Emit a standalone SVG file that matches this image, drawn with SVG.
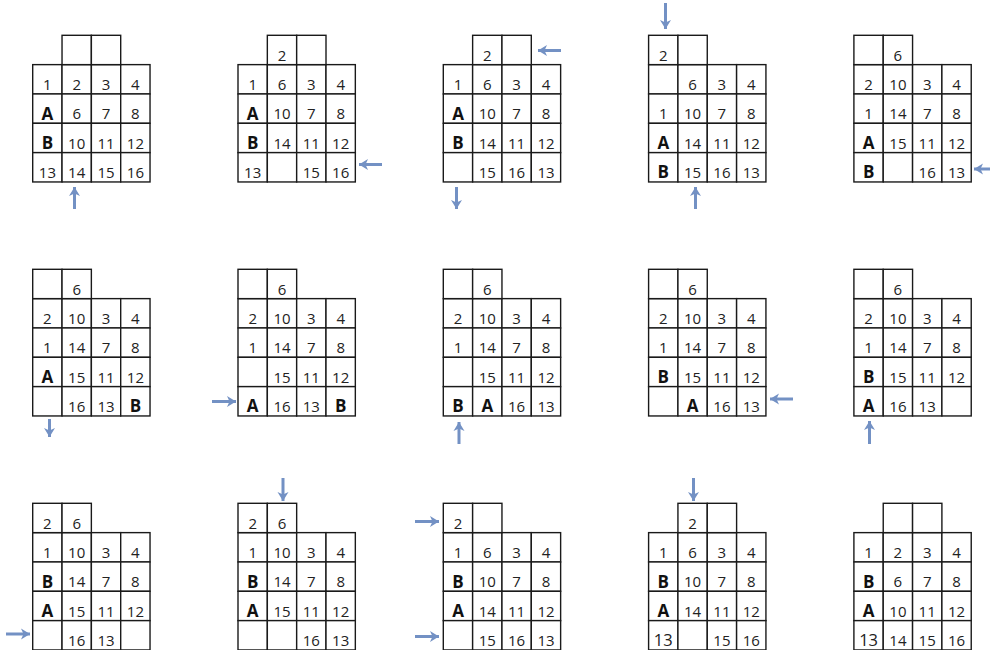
<svg xmlns="http://www.w3.org/2000/svg" width="990" height="650" viewBox="0 0 990 650">
<style>
.c{fill:#fff;stroke:#1a1a1a;stroke-width:1.4}
.n{font-family:"Open Sans","Liberation Sans",sans-serif;font-size:15px;fill:#222;text-anchor:middle}
.b{font-family:"Open Sans","Liberation Sans",sans-serif;font-size:17px;font-weight:bold;fill:#111;text-anchor:middle}
.l{font-size:16.5px}
.a{stroke:#7391c4;stroke-width:3;fill:none;marker-end:url(#ah)}
</style>
<defs>
<marker id="ah" markerUnits="userSpaceOnUse" markerWidth="14" markerHeight="14" refX="10" refY="7" orient="auto">
<path d="M1,1.5 L10,7 L1,12.5 L3.5,7 Z" fill="#7391c4"/>
</marker>
<g id="grid">
<rect class="c" x="0" y="29.33" width="29.33" height="29.33"/><rect class="c" x="29.33" y="29.33" width="29.33" height="29.33"/><rect class="c" x="58.67" y="29.33" width="29.33" height="29.33"/><rect class="c" x="88" y="29.33" width="29.33" height="29.33"/>
<rect class="c" x="0" y="58.67" width="29.33" height="29.33"/><rect class="c" x="29.33" y="58.67" width="29.33" height="29.33"/><rect class="c" x="58.67" y="58.67" width="29.33" height="29.33"/><rect class="c" x="88" y="58.67" width="29.33" height="29.33"/>
<rect class="c" x="0" y="88" width="29.33" height="29.33"/><rect class="c" x="29.33" y="88" width="29.33" height="29.33"/><rect class="c" x="58.67" y="88" width="29.33" height="29.33"/><rect class="c" x="88" y="88" width="29.33" height="29.33"/>
<rect class="c" x="0" y="117.33" width="29.33" height="29.33"/><rect class="c" x="29.33" y="117.33" width="29.33" height="29.33"/><rect class="c" x="58.67" y="117.33" width="29.33" height="29.33"/><rect class="c" x="88" y="117.33" width="29.33" height="29.33"/>
</g>
<g id="topR"><rect class="c" x="29.33" y="0" width="29.33" height="29.33"/><rect class="c" x="58.67" y="0" width="29.33" height="29.33"/></g>
<g id="topL"><rect class="c" x="0" y="0" width="29.33" height="29.33"/><rect class="c" x="29.33" y="0" width="29.33" height="29.33"/></g>
</defs>

<g id="p1" transform="translate(32.7,35.3)">
<use href="#grid"/><use href="#topR"/>
<text class="n" x="14.7" y="54.7">1</text><text class="n" x="44" y="54.7">2</text><text class="n" x="73.3" y="54.7">3</text><text class="n" x="102.7" y="54.7">4</text>
<text class="b" x="14.7" y="84.5">A</text><text class="n" x="44" y="84">6</text><text class="n" x="73.3" y="84">7</text><text class="n" x="102.7" y="84">8</text>
<text class="b" x="14.7" y="113.8">B</text><text class="n" x="44" y="113.3">10</text><text class="n" x="73.3" y="113.3">11</text><text class="n" x="102.7" y="113.3">12</text>
<text class="n" x="14.7" y="142.7">13</text><text class="n" x="44" y="142.7">14</text><text class="n" x="73.3" y="142.7">15</text><text class="n" x="102.7" y="142.7">16</text>
</g>

<g id="p2" transform="translate(238,35.3)">
<use href="#grid"/><use href="#topR"/>
<text class="n" x="44" y="25.3">2</text>
<text class="n" x="14.7" y="54.7">1</text><text class="n" x="44" y="54.7">6</text><text class="n" x="73.3" y="54.7">3</text><text class="n" x="102.7" y="54.7">4</text>
<text class="b" x="14.7" y="84.5">A</text><text class="n" x="44" y="84">10</text><text class="n" x="73.3" y="84">7</text><text class="n" x="102.7" y="84">8</text>
<text class="b" x="14.7" y="113.8">B</text><text class="n" x="44" y="113.3">14</text><text class="n" x="73.3" y="113.3">11</text><text class="n" x="102.7" y="113.3">12</text>
<text class="n" x="14.7" y="142.7">13</text><text class="n" x="73.3" y="142.7">15</text><text class="n" x="102.7" y="142.7">16</text>
</g>

<g id="p3" transform="translate(443.3,35.3)">
<use href="#grid"/><use href="#topR"/>
<text class="n" x="44" y="25.3">2</text>
<text class="n" x="14.7" y="54.7">1</text><text class="n" x="44" y="54.7">6</text><text class="n" x="73.3" y="54.7">3</text><text class="n" x="102.7" y="54.7">4</text>
<text class="b" x="14.7" y="84.5">A</text><text class="n" x="44" y="84">10</text><text class="n" x="73.3" y="84">7</text><text class="n" x="102.7" y="84">8</text>
<text class="b" x="14.7" y="113.8">B</text><text class="n" x="44" y="113.3">14</text><text class="n" x="73.3" y="113.3">11</text><text class="n" x="102.7" y="113.3">12</text>
<text class="n" x="44" y="142.7">15</text><text class="n" x="73.3" y="142.7">16</text><text class="n" x="102.7" y="142.7">13</text>
</g>

<g id="p4" transform="translate(648.6,35.3)">
<use href="#grid"/><use href="#topL"/>
<text class="n" x="14.7" y="25.3">2</text>
<text class="n" x="44" y="54.7">6</text><text class="n" x="73.3" y="54.7">3</text><text class="n" x="102.7" y="54.7">4</text>
<text class="n" x="14.7" y="84">1</text><text class="n" x="44" y="84">10</text><text class="n" x="73.3" y="84">7</text><text class="n" x="102.7" y="84">8</text>
<text class="b" x="14.7" y="113.8">A</text><text class="n" x="44" y="113.3">14</text><text class="n" x="73.3" y="113.3">11</text><text class="n" x="102.7" y="113.3">12</text>
<text class="b" x="14.7" y="143.2">B</text><text class="n" x="44" y="142.7">15</text><text class="n" x="73.3" y="142.7">16</text><text class="n" x="102.7" y="142.7">13</text>
</g>

<g id="p5" transform="translate(853.9,35.3)">
<use href="#grid"/><use href="#topL"/>
<text class="n" x="44" y="25.3">6</text>
<text class="n" x="14.7" y="54.7">2</text><text class="n" x="44" y="54.7">10</text><text class="n" x="73.3" y="54.7">3</text><text class="n" x="102.7" y="54.7">4</text>
<text class="n" x="14.7" y="84">1</text><text class="n" x="44" y="84">14</text><text class="n" x="73.3" y="84">7</text><text class="n" x="102.7" y="84">8</text>
<text class="b" x="14.7" y="113.8">A</text><text class="n" x="44" y="113.3">15</text><text class="n" x="73.3" y="113.3">11</text><text class="n" x="102.7" y="113.3">12</text>
<text class="b" x="14.7" y="143.2">B</text><text class="n" x="73.3" y="142.7">16</text><text class="n" x="102.7" y="142.7">13</text>
</g>

<g id="p6" transform="translate(32.7,269.3)">
<use href="#grid"/><use href="#topL"/>
<text class="n" x="44" y="25.3">6</text>
<text class="n" x="14.7" y="54.7">2</text><text class="n" x="44" y="54.7">10</text><text class="n" x="73.3" y="54.7">3</text><text class="n" x="102.7" y="54.7">4</text>
<text class="n" x="14.7" y="84">1</text><text class="n" x="44" y="84">14</text><text class="n" x="73.3" y="84">7</text><text class="n" x="102.7" y="84">8</text>
<text class="b" x="14.7" y="113.8">A</text><text class="n" x="44" y="113.3">15</text><text class="n" x="73.3" y="113.3">11</text><text class="n" x="102.7" y="113.3">12</text>
<text class="n" x="44" y="142.7">16</text><text class="n" x="73.3" y="142.7">13</text><text class="b" x="102.7" y="143.2">B</text>
</g>

<g id="p7" transform="translate(238,269.3)">
<use href="#grid"/><use href="#topL"/>
<text class="n" x="44" y="25.3">6</text>
<text class="n" x="14.7" y="54.7">2</text><text class="n" x="44" y="54.7">10</text><text class="n" x="73.3" y="54.7">3</text><text class="n" x="102.7" y="54.7">4</text>
<text class="n" x="14.7" y="84">1</text><text class="n" x="44" y="84">14</text><text class="n" x="73.3" y="84">7</text><text class="n" x="102.7" y="84">8</text>
<text class="n" x="44" y="113.3">15</text><text class="n" x="73.3" y="113.3">11</text><text class="n" x="102.7" y="113.3">12</text>
<text class="b" x="14.7" y="143.2">A</text><text class="n" x="44" y="142.7">16</text><text class="n" x="73.3" y="142.7">13</text><text class="b" x="102.7" y="143.2">B</text>
</g>

<g id="p8" transform="translate(443.3,269.3)">
<use href="#grid"/><use href="#topL"/>
<text class="n" x="44" y="25.3">6</text>
<text class="n" x="14.7" y="54.7">2</text><text class="n" x="44" y="54.7">10</text><text class="n" x="73.3" y="54.7">3</text><text class="n" x="102.7" y="54.7">4</text>
<text class="n" x="14.7" y="84">1</text><text class="n" x="44" y="84">14</text><text class="n" x="73.3" y="84">7</text><text class="n" x="102.7" y="84">8</text>
<text class="n" x="44" y="113.3">15</text><text class="n" x="73.3" y="113.3">11</text><text class="n" x="102.7" y="113.3">12</text>
<text class="b" x="14.7" y="143.2">B</text><text class="b" x="44" y="143.2">A</text><text class="n" x="73.3" y="142.7">16</text><text class="n" x="102.7" y="142.7">13</text>
</g>

<g id="p9" transform="translate(648.6,269.3)">
<use href="#grid"/><use href="#topL"/>
<text class="n" x="44" y="25.3">6</text>
<text class="n" x="14.7" y="54.7">2</text><text class="n" x="44" y="54.7">10</text><text class="n" x="73.3" y="54.7">3</text><text class="n" x="102.7" y="54.7">4</text>
<text class="n" x="14.7" y="84">1</text><text class="n" x="44" y="84">14</text><text class="n" x="73.3" y="84">7</text><text class="n" x="102.7" y="84">8</text>
<text class="b" x="14.7" y="113.8">B</text><text class="n" x="44" y="113.3">15</text><text class="n" x="73.3" y="113.3">11</text><text class="n" x="102.7" y="113.3">12</text>
<text class="b" x="44" y="143.2">A</text><text class="n" x="73.3" y="142.7">16</text><text class="n" x="102.7" y="142.7">13</text>
</g>

<g id="p10" transform="translate(853.9,269.3)">
<use href="#grid"/><use href="#topL"/>
<text class="n" x="44" y="25.3">6</text>
<text class="n" x="14.7" y="54.7">2</text><text class="n" x="44" y="54.7">10</text><text class="n" x="73.3" y="54.7">3</text><text class="n" x="102.7" y="54.7">4</text>
<text class="n" x="14.7" y="84">1</text><text class="n" x="44" y="84">14</text><text class="n" x="73.3" y="84">7</text><text class="n" x="102.7" y="84">8</text>
<text class="b" x="14.7" y="113.8">B</text><text class="n" x="44" y="113.3">15</text><text class="n" x="73.3" y="113.3">11</text><text class="n" x="102.7" y="113.3">12</text>
<text class="b" x="14.7" y="143.2">A</text><text class="n" x="44" y="142.7">16</text><text class="n" x="73.3" y="142.7">13</text>
</g>

<g id="p11" transform="translate(32.7,503.3)">
<use href="#grid"/><use href="#topL"/>
<text class="n" x="14.7" y="25.3">2</text><text class="n" x="44" y="25.3">6</text>
<text class="n" x="14.7" y="54.7">1</text><text class="n" x="44" y="54.7">10</text><text class="n" x="73.3" y="54.7">3</text><text class="n" x="102.7" y="54.7">4</text>
<text class="b" x="14.7" y="84.5">B</text><text class="n" x="44" y="84">14</text><text class="n" x="73.3" y="84">7</text><text class="n" x="102.7" y="84">8</text>
<text class="b" x="14.7" y="113.8">A</text><text class="n" x="44" y="113.3">15</text><text class="n" x="73.3" y="113.3">11</text><text class="n" x="102.7" y="113.3">12</text>
<text class="n" x="44" y="142.7">16</text><text class="n" x="73.3" y="142.7">13</text>
</g>

<g id="p12" transform="translate(238,503.3)">
<use href="#grid"/><use href="#topL"/>
<text class="n" x="14.7" y="25.3">2</text><text class="n" x="44" y="25.3">6</text>
<text class="n" x="14.7" y="54.7">1</text><text class="n" x="44" y="54.7">10</text><text class="n" x="73.3" y="54.7">3</text><text class="n" x="102.7" y="54.7">4</text>
<text class="b" x="14.7" y="84.5">B</text><text class="n" x="44" y="84">14</text><text class="n" x="73.3" y="84">7</text><text class="n" x="102.7" y="84">8</text>
<text class="b" x="14.7" y="113.8">A</text><text class="n" x="44" y="113.3">15</text><text class="n" x="73.3" y="113.3">11</text><text class="n" x="102.7" y="113.3">12</text>
<text class="n" x="73.3" y="142.7">16</text><text class="n" x="102.7" y="142.7">13</text>
</g>

<g id="p13" transform="translate(443.3,503.3)">
<use href="#grid"/><use href="#topL"/>
<text class="n" x="14.7" y="25.3">2</text>
<text class="n" x="14.7" y="54.7">1</text><text class="n" x="44" y="54.7">6</text><text class="n" x="73.3" y="54.7">3</text><text class="n" x="102.7" y="54.7">4</text>
<text class="b" x="14.7" y="84.5">B</text><text class="n" x="44" y="84">10</text><text class="n" x="73.3" y="84">7</text><text class="n" x="102.7" y="84">8</text>
<text class="b" x="14.7" y="113.8">A</text><text class="n" x="44" y="113.3">14</text><text class="n" x="73.3" y="113.3">11</text><text class="n" x="102.7" y="113.3">12</text>
<text class="n" x="44" y="142.7">15</text><text class="n" x="73.3" y="142.7">16</text><text class="n" x="102.7" y="142.7">13</text>
</g>

<g id="p14" transform="translate(648.6,503.3)">
<use href="#grid"/><use href="#topR"/>
<text class="n" x="44" y="25.3">2</text>
<text class="n" x="14.7" y="54.7">1</text><text class="n" x="44" y="54.7">6</text><text class="n" x="73.3" y="54.7">3</text><text class="n" x="102.7" y="54.7">4</text>
<text class="b" x="14.7" y="84.5">B</text><text class="n" x="44" y="84">10</text><text class="n" x="73.3" y="84">7</text><text class="n" x="102.7" y="84">8</text>
<text class="b" x="14.7" y="113.8">A</text><text class="n" x="44" y="113.3">14</text><text class="n" x="73.3" y="113.3">11</text><text class="n" x="102.7" y="113.3">12</text>
<text class="n l" x="14.7" y="143">13</text><text class="n" x="73.3" y="142.7">15</text><text class="n" x="102.7" y="142.7">16</text>
</g>

<g id="p15" transform="translate(853.9,503.3)">
<use href="#grid"/><use href="#topR"/>
<text class="n" x="14.7" y="54.7">1</text><text class="n" x="44" y="54.7">2</text><text class="n" x="73.3" y="54.7">3</text><text class="n" x="102.7" y="54.7">4</text>
<text class="b" x="14.7" y="84.5">B</text><text class="n" x="44" y="84">6</text><text class="n" x="73.3" y="84">7</text><text class="n" x="102.7" y="84">8</text>
<text class="b" x="14.7" y="113.8">A</text><text class="n" x="44" y="113.3">10</text><text class="n" x="73.3" y="113.3">11</text><text class="n" x="102.7" y="113.3">12</text>
<text class="n l" x="14.7" y="143">13</text><text class="n" x="44" y="142.7">14</text><text class="n" x="73.3" y="142.7">15</text><text class="n" x="102.7" y="142.7">16</text>
</g>

<g id="arrows">
<line class="a" x1="74.5" y1="209" x2="74.5" y2="187"/>
<line class="a" x1="382" y1="164.5" x2="359" y2="164.5"/>
<line class="a" x1="561" y1="50.5" x2="538" y2="50.5"/>
<line class="a" x1="456.5" y1="187" x2="456.5" y2="209"/>
<line class="a" x1="665.5" y1="3" x2="665.5" y2="29"/>
<line class="a" x1="695.5" y1="209" x2="695.5" y2="187"/>
<line class="a" x1="994" y1="169" x2="974" y2="169"/>
<line class="a" x1="49.5" y1="419" x2="49.5" y2="437"/>
<line class="a" x1="212" y1="401.5" x2="236" y2="401.5"/>
<line class="a" x1="459" y1="444" x2="459" y2="422"/>
<line class="a" x1="793" y1="399" x2="770" y2="399"/>
<line class="a" x1="869.5" y1="444" x2="869.5" y2="421"/>
<line class="a" x1="6" y1="634" x2="30" y2="634"/>
<line class="a" x1="283" y1="478" x2="283" y2="501"/>
<line class="a" x1="415" y1="521.5" x2="439" y2="521.5"/>
<line class="a" x1="415" y1="636.5" x2="439" y2="636.5"/>
<line class="a" x1="693.5" y1="478" x2="693.5" y2="501"/>
</g>
</svg>
